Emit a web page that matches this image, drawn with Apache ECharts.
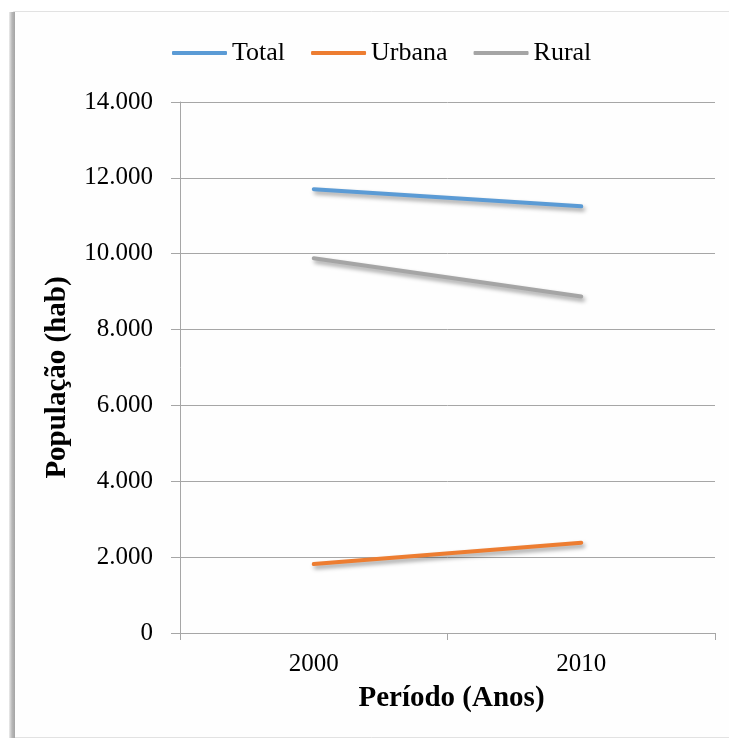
<!DOCTYPE html>
<html>
<head>
<meta charset="utf-8">
<script src="https://cdn.jsdelivr.net/npm/echarts@6/dist/echarts.min.js"></script>
<style>
  html, body { margin: 0; padding: 0; background: #ffffff; }
  #chart { width: 729px; height: 740px; }
</style>
</head>
<body>
<div id="chart"></div>
<script>
// Período (anos)
const years = ['2000', '2010'];
// População (habitantes)
const total = [11700, 11250];
const urbana = [1820, 2380];
const rural = [9880, 8870];
// Escala do eixo Y
const yMin = 0;
const yMax = 14000;
const yStep = 2000;

const serif = '"Liberation Serif", "Times New Roman", serif';
const shadow = {
  shadowColor: 'rgba(0,0,0,0.38)',
  shadowBlur: 4,
  shadowOffsetX: 2,
  shadowOffsetY: 3
};

function lineSeries(name, data, color) {
  return {
    name: name,
    type: 'line',
    data: data,
    symbol: 'none',
    lineStyle: Object.assign({ color: color, width: 4, cap: 'round' }, shadow),
    itemStyle: { color: color },
    emphasis: { disabled: true }
  };
}

const chart = echarts.init(document.getElementById('chart'), null, { renderer: 'canvas' });

chart.setOption({
  animation: false,
  backgroundColor: '#ffffff',
  graphic: [
    {
      type: 'rect', z: -10, silent: true,
      shape: { x: 13.5, y: 11.5, width: 730, height: 726 },
      style: { fill: '#fefefe', stroke: '#e2e2e2', lineWidth: 1 }
    },
    {
      type: 'rect', z: -9, silent: true,
      shape: { x: 9, y: 12, width: 6, height: 726 },
      style: {
        fill: new echarts.graphic.LinearGradient(0, 0, 1, 0, [
          { offset: 0, color: '#ececec' },
          { offset: 0.5, color: '#b8b8b8' },
          { offset: 1, color: '#a4a4a4' }
        ])
      }
    }
  ],
  legend: {
    left: 167,
    top: 35,
    itemWidth: 55,
    itemHeight: 4,
    itemGap: 26,
    icon: 'roundRect',
    textStyle: { fontFamily: serif, fontSize: 26, color: '#000000', padding: [0, 0, 0, 0] },
    data: ['Total', 'Urbana', 'Rural']
  },
  grid: { left: 180, right: 14, top: 102, bottom: 107, containLabel: false },
  xAxis: {
    type: 'category',
    data: years,
    boundaryGap: true,
    name: 'Período (Anos)',
    nameLocation: 'middle',
    nameGap: 51,
    nameTextStyle: { fontFamily: serif, fontSize: 29, fontWeight: 'bold', color: '#000000', padding: [0, 0, 0, 8] },
    axisLine: { lineStyle: { color: '#a6a6a6', width: 1 } },
    axisTick: { show: true, length: 7, lineStyle: { color: '#a6a6a6' } },
    axisLabel: { fontFamily: serif, fontSize: 25, color: '#000000', margin: 19 },
    splitLine: { show: false }
  },
  yAxis: {
    type: 'value',
    min: yMin,
    max: yMax,
    interval: yStep,
    name: 'População (hab)',
    nameLocation: 'middle',
    nameGap: 108,
    nameRotate: 90,
    nameTextStyle: { fontFamily: serif, fontSize: 29, fontWeight: 'bold', color: '#000000', padding: [0, 20, 0, 0] },
    axisLine: { show: true, lineStyle: { color: '#a6a6a6', width: 1 } },
    axisTick: { show: true, length: 9, lineStyle: { color: '#a6a6a6' } },
    axisLabel: {
      fontFamily: serif, fontSize: 25, color: '#000000', margin: 27,
      formatter: function (v) {
        return v.toString().replace(/\B(?=(\d{3})+(?!\d))/g, '.');
      }
    },
    splitLine: { show: true, lineStyle: { color: '#a6a6a6', width: 1 } }
  },
  series: [
    lineSeries('Total', total, '#5b9bd5'),
    lineSeries('Urbana', urbana, '#ed7d31'),
    lineSeries('Rural', rural, '#a5a5a5')
  ]
});
</script>
</body>
</html>
